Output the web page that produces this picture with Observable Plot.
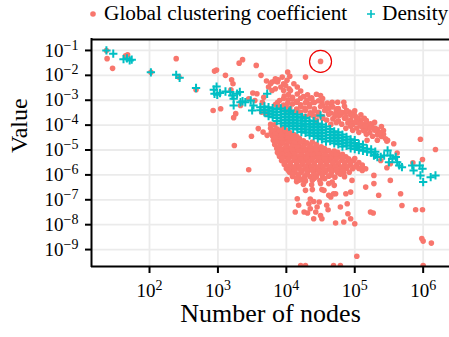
<!DOCTYPE html>
<html><head><meta charset="utf-8">
<script src="https://cdn.jsdelivr.net/npm/d3@7"></script>
<script src="https://cdn.jsdelivr.net/npm/@observablehq/plot@0.6"></script>
<style>
body{margin:0;background:#fff;}
#wrap{position:relative;width:449px;height:337px;overflow:hidden;background:#fff;}
#wrap svg{position:absolute;left:0;top:0;}
</style></head><body><div id="wrap"></div>
<script>
// values are [log10(number of nodes), log10(value)]
const gccPoints = [
[1.37,-1.00],[1.38,-1.33],[1.46,-1.72],[1.65,-1.21],[1.68,-1.17],
[2.02,-1.88],[2.39,-1.33],[2.43,-2.07],[2.68,-2.58],
[2.95,-1.83],[2.98,-1.79],[3.11,-2.00],[3.31,-1.51],[3.36,-1.37],[3.56,-1.60],
[3.63,-2.00],[3.71,-2.23],[3.74,-2.47],[3.20,-2.18],[3.22,-2.34],[3.19,-2.58],
[3.51,-2.71],[2.93,-3.41],[3.04,-3.34],[3.26,-3.54],[3.23,-3.70],[3.33,-3.21],
[3.59,-4.14],[3.49,-4.45],[3.66,-4.28],[3.72,-4.41],[3.24,-4.82],[3.45,-5.79],
[3.67,-2.88],[3.65,-3.08],[3.45,-2.94],[3.54,-3.01],[3.64,-3.48],[3.70,-3.54],
[3.77,-2.34],[3.83,-2.23],[3.88,-2.18],[3.94,-2.07],[4.02,-1.87],[4.05,-2.04],
[3.57,-2.74],[3.79,-2.61],[3.84,-2.54],[3.92,-2.47],[3.96,-2.61],[4.04,-2.54],[4.11,-2.34],[4.16,-2.47],
[3.79,-2.27],[3.84,-2.14],[3.87,-2.27],[3.96,-2.34],[4.01,-2.20],[3.99,-2.41],[4.28,-2.07],
[4.35,-2.94],[4.40,-3.08],[4.50,-2.81],[4.52,-3.08],[4.67,-3.08],[4.74,-3.34],[4.84,-3.08],[4.87,-3.48],
[4.77,-3.61],[4.99,-3.54],[4.94,-3.81],[5.04,-3.74],[5.21,-4.01],[5.13,-4.21],[5.33,-4.18],[5.18,-4.61],
[5.48,-4.61],[5.57,-4.75],[5.96,-4.57],[6.18,-4.98],[4.50,-1.44],
[3.89,-5.15],[3.94,-5.01],[4.01,-6.19],[4.15,-6.27],[4.22,-6.18],[4.28,-6.62],[4.38,-6.59],[4.50,-6.35],[4.52,-6.59],[4.62,-6.35],
[4.16,-6.96],[4.18,-7.22],[4.13,-7.49],[4.26,-7.49],[4.33,-7.16],[4.35,-7.36],[4.43,-7.49],[4.45,-7.29],[4.48,-7.09],
[4.50,-7.63],[4.40,-7.76],[4.52,-7.76],[4.61,-7.40],[4.59,-7.22],[4.65,-6.89],[4.72,-6.76],[4.70,-6.42],[4.79,-7.29],
[4.89,-7.16],[4.94,-6.69],[4.96,-6.22],[4.72,-7.93],[4.84,-7.89],[4.94,-7.76],[5.00,-7.96],[5.03,-9.27],
[4.21,-9.64],[4.28,-9.64],[4.69,-9.64],[4.79,-9.64],
[4.35,-6.97],[4.40,-7.07],[4.55,-6.62],[4.62,-6.82],[4.69,-6.76],[4.67,-6.29],[4.87,-6.76],[4.90,-7.56],[4.31,-7.53],
[5.16,-6.49],[5.28,-6.35],[5.23,-7.49],[5.27,-7.53],[5.35,-6.82],[5.52,-6.22],[5.67,-6.76],[5.69,-7.23],
[5.28,-6.02],[5.11,-5.82],[5.16,-5.75],[5.52,-5.55],[5.47,-5.71],
[5.47,-4.65],[5.62,-5.12],[5.38,-5.42],[5.99,-5.38],[5.85,-5.51],[5.89,-7.40],[5.99,-7.40],
[5.98,-8.56],[6.00,-8.66],[6.12,-8.74],[6.00,-9.64],
[3.97,-2.83],[4.09,-2.88],[4.25,-2.85],[4.37,-2.90],
[3.90,-3.01],[4.03,-2.98],[4.16,-3.03],[4.30,-3.00],[4.47,-3.02],
[3.84,-3.17],[3.96,-3.19],[4.09,-3.15],[4.21,-3.18],[4.34,-3.16],[4.53,-3.20],[4.66,-3.17],
[3.93,-3.33],[4.05,-3.31],[4.15,-3.35],[4.27,-3.32],[4.41,-3.34],[4.59,-3.30],[4.76,-3.33],
[4.11,-3.49],[4.21,-3.47],[4.35,-3.50],[4.47,-3.48],[4.65,-3.51],[4.82,-3.49],[4.92,-3.47],
[4.28,-3.65],[4.40,-3.63],[4.53,-3.66],[4.71,-3.64],[4.87,-3.66],[5.01,-3.65],
[4.44,-3.81],[4.59,-3.80],[4.76,-3.83],[4.94,-3.81],[5.09,-3.80],[5.17,-3.82],
[4.65,-3.97],[4.81,-3.96],[4.97,-3.98],[5.11,-3.97],[5.23,-3.95],
[4.87,-4.13],[5.03,-4.12],[5.17,-4.14],[5.30,-4.13],
[5.06,-4.29],[5.22,-4.30],[5.35,-4.28],[5.26,-4.45],[5.39,-4.46],[5.33,-4.61],
[4.06,-2.61],[4.21,-2.63],
[4.03,-2.77],[4.16,-2.75],[4.31,-2.78],[4.44,-2.76],
[3.96,-2.93],[4.09,-2.95],[4.21,-2.92],[4.37,-2.94],[4.53,-2.93],
[3.87,-3.09],[4.02,-3.11],[4.15,-3.08],[4.28,-3.10],[4.41,-3.09],[4.60,-3.11],[4.75,-3.08],
[3.89,-3.25],[4.00,-3.27],[4.21,-3.24],[4.34,-3.26],[4.50,-3.25],[4.68,-3.27],[4.85,-3.24],
[3.99,-3.41],[4.16,-3.43],[4.28,-3.40],[4.41,-3.42],[4.56,-3.41],[4.73,-3.43],[4.88,-3.40],[5.00,-3.42],
[4.35,-3.57],[4.47,-3.59],[4.62,-3.56],[4.79,-3.58],[4.94,-3.57],[5.09,-3.59],
[4.53,-3.73],[4.68,-3.75],[4.85,-3.72],[5.03,-3.74],[5.14,-3.73],
[4.73,-3.89],[4.90,-3.91],[5.04,-3.88],[5.17,-3.90],[5.29,-3.89],
[4.94,-4.05],[5.10,-4.07],[5.25,-4.04],[5.39,-4.06],
[4.97,-4.21],[5.14,-4.23],[5.29,-4.20],[5.42,-4.22],
[5.17,-4.37],[5.33,-4.39],
[4.57,-3.41],[4.72,-3.55],[4.87,-3.71],[5.01,-3.88],[5.16,-4.03],[5.30,-4.19],[5.42,-4.37],[5.45,-4.55],
[4.62,-3.33],[4.79,-3.47],[4.96,-3.62],[5.07,-3.94],[5.23,-4.12],[5.37,-4.32],
[3.77,-3.97],[3.83,-3.99],
[3.77,-4.13],[3.86,-4.15],[3.94,-4.12],
[3.78,-4.29],[3.87,-4.31],[3.96,-4.28],[4.05,-4.30],
[3.80,-4.45],[3.89,-4.47],[3.97,-4.44],[4.06,-4.46],[4.15,-4.45],
[3.81,-4.61],[3.90,-4.63],[3.99,-4.60],[4.08,-4.62],[4.16,-4.61],[4.25,-4.63],
[3.83,-4.78],[3.92,-4.76],[4.00,-4.79],[4.09,-4.77],[4.18,-4.78],[4.27,-4.76],[4.35,-4.79],[4.44,-4.77],
[3.86,-4.94],[3.94,-4.96],[4.03,-4.93],[4.12,-4.95],[4.21,-4.94],[4.30,-4.96],[4.38,-4.93],[4.47,-4.95],[4.56,-4.94],
[3.87,-5.10],[3.96,-5.12],[4.05,-5.09],[4.13,-5.11],[4.22,-5.10],[4.31,-5.12],[4.40,-5.09],[4.49,-5.11],[4.57,-5.10],[4.66,-5.12],[4.75,-5.09],
[3.90,-5.26],[3.99,-5.28],[4.08,-5.25],[4.16,-5.27],[4.25,-5.26],[4.34,-5.28],[4.43,-5.25],[4.51,-5.27],[4.60,-5.26],[4.69,-5.28],[4.78,-5.25],[4.87,-5.27],
[3.93,-5.42],[4.02,-5.44],[4.11,-5.41],[4.19,-5.43],[4.28,-5.42],[4.37,-5.44],[4.46,-5.41],[4.54,-5.43],[4.63,-5.42],[4.72,-5.44],[4.81,-5.41],[4.90,-5.43],[4.98,-5.42],
[3.97,-5.58],[4.06,-5.60],[4.15,-5.57],[4.24,-5.59],[4.32,-5.58],[4.41,-5.60],[4.50,-5.57],[4.59,-5.59],[4.68,-5.58],[4.76,-5.60],[4.85,-5.57],[4.94,-5.59],[5.03,-5.58],[5.11,-5.60],
[4.00,-5.74],[4.09,-5.76],[4.18,-5.73],[4.27,-5.75],[4.35,-5.74],[4.44,-5.76],[4.53,-5.73],[4.62,-5.75],[4.70,-5.74],[4.79,-5.76],[4.88,-5.73],[4.97,-5.75],[5.06,-5.74],
[4.05,-5.90],[4.13,-5.92],[4.22,-5.89],[4.31,-5.91],[4.40,-5.90],[4.49,-5.92],[4.57,-5.89],[4.66,-5.91],[4.75,-5.90],[4.84,-5.92],[4.92,-5.89],
[4.09,-6.06],[4.18,-6.08],[4.27,-6.05],[4.35,-6.07],[4.44,-6.06],[4.53,-6.08],[4.62,-6.05],[4.71,-6.09],[4.85,-6.07],
[4.18,-6.22],[4.28,-6.24],[4.38,-6.21],[4.49,-6.23],[4.25,-6.38],[4.37,-6.40],
[3.81,-4.21],[3.90,-4.23],[3.99,-4.20],
[3.84,-4.37],[3.93,-4.39],[4.02,-4.36],[4.11,-4.38],
[3.84,-4.53],[3.93,-4.55],[4.02,-4.52],[4.11,-4.54],[4.19,-4.53],
[3.86,-4.69],[3.94,-4.71],[4.03,-4.68],[4.12,-4.70],[4.21,-4.69],[4.30,-4.71],[4.38,-4.68],
[3.90,-4.86],[3.99,-4.88],[4.08,-4.85],[4.16,-4.87],[4.25,-4.86],[4.34,-4.88],[4.43,-4.85],[4.51,-4.87],
[3.92,-5.02],[4.00,-5.04],[4.09,-5.01],[4.18,-5.03],[4.27,-5.02],[4.35,-5.04],[4.44,-5.01],[4.53,-5.03],[4.62,-5.02],[4.70,-5.04],
[3.94,-5.18],[4.03,-5.20],[4.12,-5.17],[4.21,-5.19],[4.30,-5.18],[4.38,-5.20],[4.47,-5.17],[4.56,-5.19],[4.65,-5.18],[4.73,-5.20],[4.82,-5.17],
[3.94,-5.34],[4.03,-5.36],[4.12,-5.33],[4.21,-5.35],[4.30,-5.34],[4.38,-5.36],[4.47,-5.33],[4.56,-5.35],[4.65,-5.34],[4.73,-5.36],[4.82,-5.33],[4.91,-5.35],[5.00,-5.34],
[3.97,-5.50],[4.06,-5.52],[4.15,-5.49],[4.24,-5.51],[4.32,-5.50],[4.41,-5.52],[4.50,-5.49],[4.59,-5.51],[4.68,-5.50],[4.76,-5.52],[4.85,-5.49],[4.94,-5.51],[5.06,-5.50],
[4.02,-5.66],[4.11,-5.68],[4.19,-5.65],[4.28,-5.67],[4.37,-5.66],[4.46,-5.68],[4.54,-5.65],[4.63,-5.67],[4.72,-5.66],[4.81,-5.68],[4.90,-5.65],[5.01,-5.67],[5.11,-5.66],
[4.03,-5.82],[4.12,-5.84],[4.21,-5.81],[4.30,-5.83],[4.38,-5.82],[4.47,-5.84],[4.56,-5.81],[4.65,-5.83],[4.73,-5.82],[4.82,-5.84],
[4.09,-5.98],[4.18,-6.00],[4.30,-5.97],[4.41,-5.99],[4.53,-5.98],[4.65,-6.00],[4.79,-5.97],
[4.15,-6.14],[4.27,-6.16],[4.41,-6.13],[4.56,-6.15]
];
const densityPoints = [
[1.37,-1.00],[1.47,-1.13],[1.62,-1.35],[1.67,-1.32],[1.71,-1.40],[1.74,-1.37],[2.02,-1.88],[2.39,-1.98],[2.44,-2.10],[2.68,-2.51],
[2.94,-2.58],[2.98,-2.45],[2.95,-2.74],[2.99,-2.78],[3.03,-2.71],[3.11,-2.65],
[3.18,-2.67],[3.21,-2.81],[3.23,-2.94],[3.28,-2.74],[3.32,-2.67],
[3.23,-3.21],[3.36,-3.04],[3.40,-3.08],[3.48,-3.01],[3.52,-3.21],[3.50,-3.41],[3.33,-3.08],[3.72,-2.74],
[4.06,-3.41],[4.23,-3.68],[4.50,-3.61],
[3.62,-3.28],[3.62,-3.40],
[3.68,-3.49],[3.68,-3.37],[3.68,-3.25],
[3.74,-3.64],[3.74,-3.52],[3.74,-3.40],[3.74,-3.28],
[3.80,-3.68],[3.80,-3.56],[3.80,-3.44],[3.80,-3.32],
[3.86,-3.83],[3.86,-3.71],[3.86,-3.59],[3.86,-3.47],[3.86,-3.35],
[3.92,-3.93],[3.92,-3.81],[3.92,-3.69],[3.92,-3.57],[3.92,-3.45],[3.92,-3.33],
[3.98,-4.02],[3.98,-3.90],[3.98,-3.78],[3.98,-3.66],[3.98,-3.54],[3.98,-3.42],
[4.04,-4.06],[4.04,-3.94],[4.04,-3.82],[4.04,-3.70],[4.04,-3.58],[4.04,-3.46],
[4.10,-4.15],[4.10,-4.03],[4.10,-3.91],[4.10,-3.79],[4.10,-3.67],[4.10,-3.55],
[4.16,-4.18],[4.16,-4.06],[4.16,-3.94],[4.16,-3.82],[4.16,-3.70],[4.16,-3.58],
[4.22,-4.28],[4.22,-4.16],[4.22,-4.04],[4.22,-3.92],[4.22,-3.80],[4.22,-3.68],
[4.28,-4.31],[4.28,-4.19],[4.28,-4.07],[4.28,-3.95],[4.28,-3.83],[4.28,-3.71],
[4.34,-4.41],[4.34,-4.29],[4.34,-4.17],[4.34,-4.05],[4.34,-3.93],[4.34,-3.81],
[4.40,-4.44],[4.40,-4.32],[4.40,-4.20],[4.40,-4.08],[4.40,-3.96],[4.40,-3.84],
[4.46,-4.53],[4.46,-4.41],[4.46,-4.29],[4.46,-4.17],[4.46,-4.05],[4.46,-3.93],
[4.52,-4.57],[4.52,-4.45],[4.52,-4.33],[4.52,-4.21],[4.52,-4.09],[4.52,-3.97],
[4.58,-4.66],[4.58,-4.54],[4.58,-4.42],[4.58,-4.30],[4.58,-4.18],[4.58,-4.06],
[4.64,-4.64],[4.64,-4.52],[4.64,-4.40],[4.64,-4.28],[4.64,-4.16],
[4.70,-4.73],[4.70,-4.61],[4.70,-4.49],[4.70,-4.37],[4.70,-4.25],
[4.76,-4.77],[4.76,-4.65],[4.76,-4.53],[4.76,-4.41],[4.76,-4.29],
[4.82,-4.86],[4.82,-4.74],[4.82,-4.62],[4.82,-4.50],[4.82,-4.38],
[4.88,-4.83],[4.88,-4.71],[4.88,-4.59],[4.88,-4.47],
[4.94,-4.93],[4.94,-4.81],[4.94,-4.69],[4.94,-4.57],
[5.00,-4.96],[5.00,-4.84],[5.00,-4.72],[5.00,-4.60],
[5.06,-5.00],[5.06,-4.88],[5.06,-4.76],
[5.12,-5.03],[5.12,-4.91],[5.12,-4.79],
[5.18,-5.07],[5.18,-4.95],
[5.24,-5.10],[5.24,-4.98],
[5.30,-5.19],[5.30,-5.07],[5.28,-5.22],[5.33,-5.28],
[5.38,-5.28],[5.43,-5.22],[5.48,-5.02],[5.52,-5.22],[5.55,-5.35],[5.50,-5.49],[5.60,-5.28],[5.62,-5.49],[5.65,-5.62],[5.69,-5.69],
[5.84,-5.62],[5.86,-5.82],[5.95,-5.62],[5.99,-5.75],[5.96,-6.02],[6.00,-6.29],[6.11,-6.09],[6.18,-6.02]
];
const highlightPoint = [[4.50,-1.44]];
const xTickExponents = [2,3,4,5,6];
const yTickExponents = [-1,-2,-3,-4,-5,-6,-7,-8,-9];
const xDomainExponents = [1.152, 6.385];
const yDomainExponents = [-9.68, -0.56];
const legendLabels = ["Global clustering coefficient", "Density"];
const xTitle = "Number of nodes";
const yTitle = "Value";

const RED = "#F8766D", CYAN = "#00BFC4";
const FONT = "'Liberation Serif','Times New Roman',serif";
const toRow = ([a, b]) => ({nodes: 10 ** a, value: 10 ** b});
const gcc = gccPoints.map(toRow);
const density = densityPoints.map(toRow);
const highlight = highlightPoint.map(toRow);
const xTicks = xTickExponents.map(e => ({v: 10 ** e, e}));
const yTicks = yTickExponents.map(e => ({v: 10 ** e, e}));
const [xLo, xHi] = xDomainExponents.map(e => 10 ** e);
const [yLo, yHi] = yDomainExponents.map(e => 10 ** e);

const tickDown = {draw(c) { c.moveTo(0, 0); c.lineTo(0, 6.5); }};
const tickLeft = {draw(c) { c.moveTo(0, 0); c.lineTo(-6.5, 0); }};
const fmt = e => "10^" + (e < 0 ? "\u2212" + (-e) : e);

const svg = Plot.plot({
  width: 449, height: 337,
  marginLeft: 91, marginRight: 0, marginTop: 39, marginBottom: 71,
  x: {type: "log", domain: [xLo, xHi], axis: null},
  y: {type: "log", domain: [yLo, yHi], axis: null},
  style: {fontFamily: FONT, background: "white", color: "black", overflow: "visible"},
  marks: [
    Plot.ruleX(xTicks, {x: "v", stroke: "#ebebeb", strokeWidth: 1.8}),
    Plot.ruleY(yTicks, {y: "v", stroke: "#ebebeb", strokeWidth: 1.8}),
    Plot.dot(gcc, {x: "nodes", y: "value", r: 2.8, fill: RED, clip: true}),
    Plot.dot(density, {x: "nodes", y: "value", symbol: "plus", r: 2.8, stroke: CYAN, strokeWidth: 2, clip: true}),
    Plot.dot(highlight, {x: "nodes", y: "value", r: 11, fill: "none", stroke: "#ee0000", strokeWidth: 1.2}),
    Plot.ruleY([yHi], {stroke: "black", strokeWidth: 2}),
    Plot.ruleY([yLo], {stroke: "black", strokeWidth: 2}),
    Plot.ruleX([xLo], {stroke: "black", strokeWidth: 2, strokeLinecap: "square"}),
    Plot.dot(xTicks, {x: "v", frameAnchor: "bottom", symbol: tickDown, stroke: "black", strokeWidth: 2, fill: "none"}),
    Plot.dot(yTicks, {y: "v", frameAnchor: "left", symbol: tickLeft, stroke: "black", strokeWidth: 2, fill: "none"}),
    Plot.text(xTicks, {x: "v", frameAnchor: "bottom", text: d => fmt(d.e), lineAnchor: "top", dy: 16.5, fontSize: 19, fill: "black", fontFamily: FONT}),
    Plot.text(yTicks, {y: "v", frameAnchor: "left", text: d => fmt(d.e), textAnchor: "end", dx: -13, lineAnchor: "middle", fontSize: 19, fill: "black", fontFamily: FONT}),
    Plot.text([xTitle], {frameAnchor: "bottom", text: d => d, lineAnchor: "middle", dy: 47, fontSize: 26, fill: "black", fontFamily: FONT}),
    Plot.text([yTitle], {frameAnchor: "left", text: d => d, rotate: -90, lineAnchor: "middle", dx: -72, fontSize: 24, fill: "black", fontFamily: FONT})
  ]
});

// turn "10^e" labels into 10 with a real superscript
d3.select(svg).selectAll("text").each(function() {
  const t = this.textContent;
  const m = /^10\^(.+)$/.exec(t);
  if (!m) return;
  const sel = d3.select(this);
  sel.text("");
  sel.append("tspan").text("10");
  sel.append("tspan").attr("font-size", 14).attr("dy", -7).text(m[1]);
});
document.getElementById("wrap").appendChild(svg);

// legend above the panel
const leg = d3.create("svg").attr("width", 449).attr("height", 32)
  .style("background", "none").attr("font-family", FONT);
leg.append("circle").attr("cx", 93).attr("cy", 14).attr("r", 2.8).attr("fill", RED);
leg.append("text").attr("x", 104).attr("y", 20).attr("font-size", 21.3).attr("font-family", FONT).text(legendLabels[0]);
leg.append("path").attr("d", "M367,14H375M371,10V18").attr("stroke", CYAN).attr("stroke-width", 1.6);
leg.append("text").attr("x", 382).attr("y", 20).attr("font-size", 21.3).attr("font-family", FONT).text(legendLabels[1]);
document.getElementById("wrap").appendChild(leg.node());
</script></body></html>
